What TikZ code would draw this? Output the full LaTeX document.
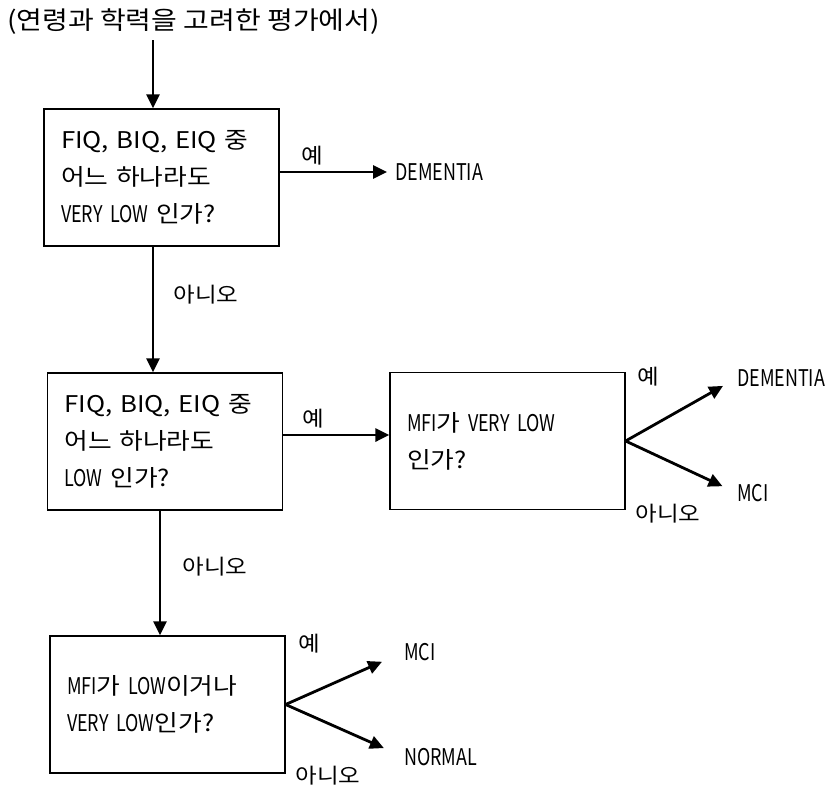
\documentclass[tikz,border=0pt]{standalone}
\usepackage{fontspec}
\setmainfont[FakeStretch=1.12]{Noto Sans CJK KR}
\newfontfamily\narrowfont[FakeStretch=0.78]{Noto Sans CJK KR}
\usetikzlibrary{arrows.meta,positioning,calc}
\tikzset{
  decisionBox/.style={
    draw,
    line width=1.2pt,
    minimum width=235pt,
    minimum height=137pt,
    text width=201pt,
    inner xsep=17pt,
    align=left,
    font=\fontsize{23}{37}\selectfont
  },
  outcomeText/.style={
    inner sep=0pt,
    anchor=west,
    font=\fontsize{23}{26}\selectfont\narrowfont
  },
  answerText/.style={
    inner sep=1pt,
    font=\fontsize{21}{24}\selectfont
  },
  flowArrow/.style={
    line width=2.8pt,
    -{Triangle[length=14pt,width=13pt]}
  }
}

\begin{document}
\begin{tikzpicture}[x=1pt, y=-1pt]
\useasboundingbox (0,0) rectangle (833,785);

% title line and entry point
\node[anchor=west, inner sep=0pt, font=\fontsize{25}{28}\selectfont] (title) at (7,22) {(연령과 학력을 고려한 평가에서)};
\coordinate (entry) at (153,40);

% decision boxes
\node[decisionBox] (q1) at (161.5,177.5) {FIQ, BIQ, EIQ 중\\어느 하나라도\\{\narrowfont VERY LOW} 인가?};
\node[decisionBox] (q2) at (165,441.5) {FIQ, BIQ, EIQ 중\\어느 하나라도\\{\narrowfont LOW} 인가?};
\node[decisionBox] (q3) at (507.5,441) {{\narrowfont MFI}가 {\narrowfont VERY LOW}\\인가?};
\node[decisionBox] (q4) at (167.5,704.5) {{\narrowfont MFI}가 {\narrowfont LOW}이거나\\{\narrowfont VERY LOW}인가?};

% outcomes
\node[outcomeText] (dem1) at (395,172) {DEMENTIA};
\node[outcomeText] (dem2) at (737,378) {DEMENTIA};
\node[outcomeText] (mci1) at (737,493) {MCI};
\node[outcomeText] (mci2) at (404,652) {MCI};
\node[outcomeText] (norm) at (404,757) {NORMAL};

% main flow
\draw[flowArrow] (entry) -- (entry |- q1.north);
\draw[flowArrow] (q1.east |- dem1) -- node[answerText, pos=0.3, above=4pt] (y1) {예} ($(dem1.west)+(-8,0)$);
\draw[flowArrow] (q1.south -| entry) -- node[answerText, pos=0.38, right=18pt] (n1) {아니오} (q2.north -| entry);
\coordinate (mid2) at (q2.east |- 0,435);
\draw[flowArrow] (mid2) -- node[answerText, pos=0.28, above=4pt] (y2) {예} (mid2 -| q3.west);
\coordinate (down2) at (160,0);
\draw[flowArrow] (q2.south -| down2) -- node[answerText, pos=0.45, right=20pt] (n2) {아니오} (q4.north -| down2);

% fan-out of the MFI checks
\draw[flowArrow, shorten >=16pt] (q3.east) -- (dem2.west);
\draw[flowArrow, shorten >=16pt] (q3.east) -- (mci1.west);
\node[answerText] (y3) at (648,377) {예};
\node[answerText] (n3) at (668,514) {아니오};

\draw[flowArrow, shorten >=24pt] (q4.east) -- (mci2.west);
\draw[flowArrow, shorten >=22pt] (q4.east) -- (norm.west);
\node[answerText] (y4) at (309,644) {예};
\node[answerText] (n4) at (328,776) {아니오};
\end{tikzpicture}
\end{document}
